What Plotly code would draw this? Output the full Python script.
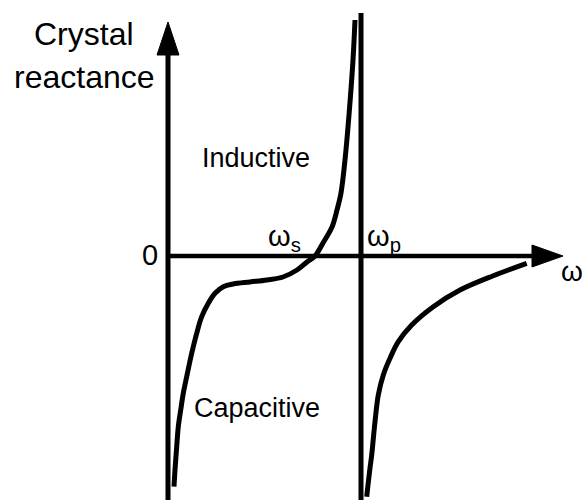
import plotly.graph_objects as go

# Branch 1: below and through series resonance (omega_s) up to omega_p
omega1 = [6, 7, 8.7, 10.3, 12.7, 15.3, 18.7, 23.7, 28.7, 33.7, 40.3, 47, 55.3, 65.3, 82, 99, 115, 129, 139, 147, 155, 164, 169, 173, 177, 181, 185, 187]
react1 = [-230.7, -214, -190.7, -170.7, -154, -137.3, -120.7, -97.3, -77.3, -60.7, -47.3, -37.3, -30.7, -28, -26, -24, -21, -14, -6, 0, 13, 29, 46, 63, 96, 141, 196, 236]

# Branch 2: above parallel resonance (omega_p)
omega2 = [198.7, 202, 203.7, 207, 210.3, 215.3, 222, 230.3, 243.7, 265.3, 292, 325.3, 358.7]
react2 = [-240.7, -212, -199, -165.7, -139, -119, -102.3, -85.7, -69, -50.7, -34, -19.7, -7.3]

omega_p = 193
x_axis_end = 364
y_axis_end = 201

FONT = "Liberation Sans, Arial, sans-serif"
BLACK = "#000000"

fig = go.Figure()
for xs, ys in [(omega1, react1), (omega2, react2)]:
    fig.add_trace(go.Scatter(x=xs, y=ys, mode="lines",
                             line=dict(color=BLACK, width=5, shape="spline", smoothing=1.0),
                             hoverinfo="skip", showlegend=False))

shapes = [
    # y axis
    dict(type="line", x0=0, x1=0, y0=-250, y1=y_axis_end + 2, line=dict(color=BLACK, width=5)),
    dict(type="path", path="M -11 201 L 0 234 L 11 201 Z", fillcolor=BLACK, line=dict(color=BLACK, width=1)),
    # x axis
    dict(type="line", x0=0, x1=x_axis_end + 2, y0=0, y1=0, line=dict(color=BLACK, width=4.5)),
    dict(type="path", path="M 364 11 L 395 0 L 364 -11 Z", fillcolor=BLACK, line=dict(color=BLACK, width=1)),
    # asymptote at omega_p
    dict(type="line", x0=omega_p, x1=omega_p, y0=-250, y1=243, line=dict(color=BLACK, width=5)),
]

def ann(text, x, y, size, xanchor="center", yanchor="middle"):
    return dict(text=text, x=x, y=y, xref="x", yref="y", showarrow=False,
                font=dict(family=FONT, size=size, color=BLACK),
                xanchor=xanchor, yanchor=yanchor)

annotations = [
    ann("Crystal", -84, 222, 32),
    ann("reactance", -84, 179, 32),
    ann("Inductive", 88, 98, 27),
    ann("Capacitive", 89, -152, 27),
    ann("0", -18, 1, 29),
    ann("ω<sub>s</sub>", 135, 18, 29, xanchor="right"),
    ann("ω<sub>p</sub>", 197, 18, 29, xanchor="left"),
    ann("ω", 391, -15, 28, xanchor="left"),
]

fig.update_layout(
    width=582, height=500,
    margin=dict(l=0, r=0, t=0, b=0),
    paper_bgcolor="white", plot_bgcolor="white",
    xaxis=dict(range=[-168, 414], visible=False, fixedrange=True),
    yaxis=dict(range=[-244, 256], visible=False, fixedrange=True),
    shapes=shapes, annotations=annotations,
    showlegend=False,
)

fig.write_html("out.html", config={"displayModeBar": False},
               post_script="document.body.style.margin='0';document.body.style.overflow='hidden';")
